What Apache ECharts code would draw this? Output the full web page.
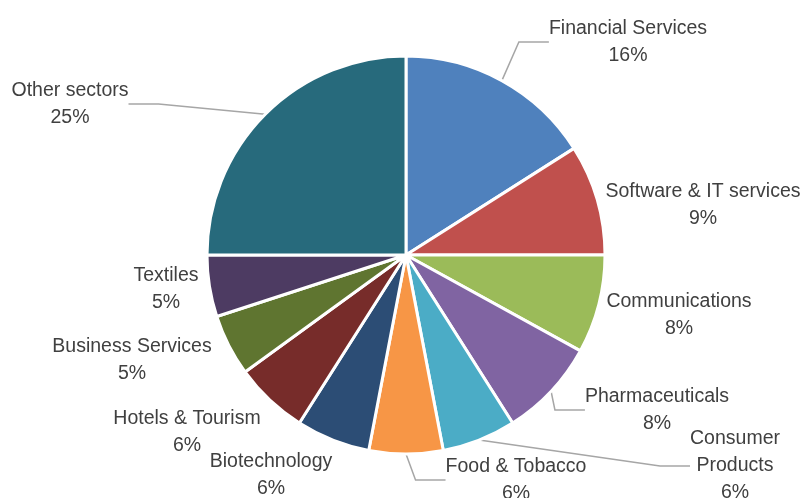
<!DOCTYPE html>
<html>
<head>
<meta charset="utf-8">
<script src="https://cdn.jsdelivr.net/npm/echarts@6/dist/echarts.min.js"></script>
<style>
  html, body { margin: 0; padding: 0; background: #ffffff; }
  #chart { width: 803px; height: 498px; }
</style>
</head>
<body>
<div id="chart"></div>
<script>
// Sector shares (percent), clockwise from 12 o'clock
const sectors = [
  'Financial Services', 'Software & IT services', 'Communications',
  'Pharmaceuticals', 'Consumer Products', 'Food & Tobacco',
  'Biotechnology', 'Hotels & Tourism', 'Business Services',
  'Textiles', 'Other sectors'
];
const shares = [16, 9, 8, 8, 6, 6, 6, 6, 5, 5, 25];

const sliceColors = [
  '#4F81BD', '#C0504D', '#9BBB59', '#8064A2', '#4BACC6', '#F79646',
  '#2C4D75', '#772C2A', '#5F7530', '#4D3B62', '#276A7C'
];

// Label anchor (centre of the text block) for each sector
const labelPos = [
  [628, 42], [703, 205], [679, 315], [657, 410], [735, 466], [516, 480],
  [271, 475], [187, 432], [132, 360], [166, 289], [70, 104]
];
// Which labels get a leader line
const withLine = [true, false, false, true, true, true, false, false, false, false, true];

const chart = echarts.init(document.getElementById('chart'), null, { renderer: 'canvas' });

chart.setOption({
  animation: false,
  backgroundColor: '#ffffff',
  series: [{
    type: 'pie',
    center: [406, 255],
    radius: [0, 199],
    startAngle: 90,
    clockwise: true,
    percentPrecision: 0,
    avoidLabelOverlap: false,
    itemStyle: { borderColor: '#ffffff', borderWidth: 3 },
    label: {
      show: true,
      position: 'outside',
      fontFamily: 'Liberation Sans, Arial, sans-serif',
      fontSize: 19.5,
      lineHeight: 27,
      color: '#404040',
      align: 'center',
      formatter: p => (p.name === 'Consumer Products' ? 'Consumer\nProducts' : p.name) + '\n' + p.percent + '%'
    },
    labelLine: {
      lineStyle: { color: '#A6A6A6', width: 1.5 }
    },
    labelLayout: params => ({
      x: labelPos[params.dataIndex][0],
      y: labelPos[params.dataIndex][1],
      align: 'center',
      verticalAlign: 'middle'
    }),
    data: sectors.map((name, i) => ({
      name: name,
      value: shares[i],
      itemStyle: { color: sliceColors[i] },
      labelLine: { show: withLine[i] }
    }))
  }]
});
</script>
</body>
</html>
